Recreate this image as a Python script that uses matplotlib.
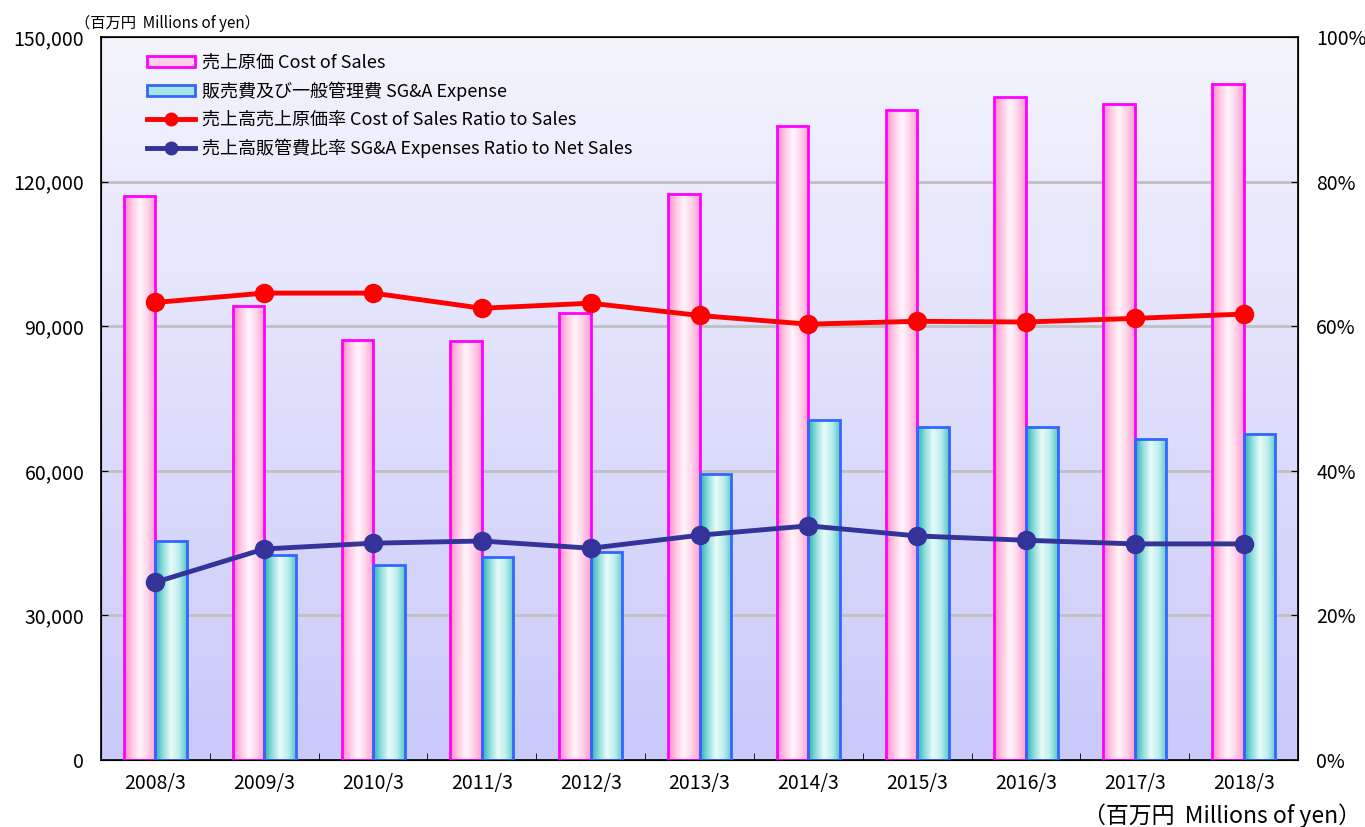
#
# Description: cost of sales / SG&A chart
#

import numpy as np
import matplotlib.pyplot as plt
from matplotlib.colors import LinearSegmentedColormap
from matplotlib.patches import Patch
from matplotlib.lines import Line2D

plt.rcParams['font.family'] = ['Noto Sans CJK JP', 'DejaVu Sans']

# データ
years = ['2008/3', '2009/3', '2010/3', '2011/3', '2012/3', '2013/3',
         '2014/3', '2015/3', '2016/3', '2017/3', '2018/3']
cost_of_sales = [117000, 94200, 87100, 86900, 92700, 117400,
                 131500, 134800, 137500, 136100, 140200]
sga_expense = [45400, 42500, 40400, 42100, 43100, 59300,
               70500, 69100, 69100, 66600, 67600]
cost_ratio = [63.3, 64.6, 64.6, 62.5, 63.2, 61.5, 60.3, 60.7, 60.6, 61.1, 61.7]
sga_ratio = [24.6, 29.2, 30.0, 30.3, 29.3, 31.1, 32.4, 31.0, 30.4, 29.9, 29.9]

label_cost = '売上原価 Cost of Sales'
label_sga = '販売費及び一般管理費 SG&A Expense'
label_cost_ratio = '売上高売上原価率 Cost of Sales Ratio to Sales'
label_sga_ratio = '売上高販管費比率 SG&A Expenses Ratio to Net Sales'
unit_label_top = '（百万円  Millions of yen）'
unit_label_bottom = '（百万円  Millions of yen）'

pink_cmap = LinearSegmentedColormap.from_list(
    'pink', ['#ff8cc6', '#ffc8e4', '#fff6fb', '#ffd2e9', '#ff9fd0'])
cyan_cmap = LinearSegmentedColormap.from_list(
    'cyan', ['#2fb0b0', '#8edede', '#eafcf9', '#bdeeee', '#5cc8c8'])
bg_cmap = LinearSegmentedColormap.from_list('bg', ['#c9c9fa', '#f4f4fd'])


def gradient_bars(ax, bars, cmap):
    grad = np.linspace(0, 1, 64).reshape(1, -1)
    for b in bars:
        x0, w, h = b.get_x(), b.get_width(), b.get_height()
        ax.imshow(grad, cmap=cmap, extent=(x0, x0 + w, 0, h),
                  aspect='auto', zorder=2, interpolation='bilinear')


fig = plt.figure(figsize=(13.65, 8.27), dpi=100)
ax = fig.add_axes([0.074, 0.081, 0.877, 0.874])

x = np.arange(len(years))
w = 0.29

# 背景グラデーション
ax.imshow(np.linspace(0, 1, 256).reshape(-1, 1), cmap=bg_cmap, origin='lower',
          extent=(-0.5, len(years) - 0.5, 0, 150000), aspect='auto', zorder=0)

for yv in [30000, 60000, 90000, 120000]:
    ax.axhline(yv, color='#c0c0c0', lw=2, zorder=1)

b1 = ax.bar(x - w / 2, cost_of_sales, w, facecolor='none',
            edgecolor='#ff00ff', lw=2, zorder=3)
b2 = ax.bar(x + w / 2, sga_expense, w, facecolor='none',
            edgecolor='#3366ff', lw=2, zorder=3)
gradient_bars(ax, b1, pink_cmap)
gradient_bars(ax, b2, cyan_cmap)

ax.set_xlim(-0.5, len(years) - 0.5)
ax.set_ylim(0, 150000)
ax.set_yticks([0, 30000, 60000, 90000, 120000, 150000])
ax.set_yticklabels(['{:,}'.format(v) for v in [0, 30000, 60000, 90000, 120000, 150000]])
ax.set_xticks(x)
ax.set_xticklabels(years)
ax.set_xticks(np.arange(0.5, len(years) - 1, 1), minor=True)
ax.tick_params(axis='x', which='major', length=0, pad=9, labelsize=14)
ax.tick_params(axis='x', which='minor', direction='in', length=5)
ax.tick_params(axis='y', direction='in', length=5, pad=12, labelsize=14)
for s in ax.spines.values():
    s.set_linewidth(1.2)

# 比率（右軸）
ax2 = ax.twinx()
ax2.plot(x, cost_ratio, color='#ff0000', lw=3.5, marker='o', markersize=13, zorder=5)
ax2.plot(x, sga_ratio, color='#333399', lw=3.5, marker='o', markersize=13, zorder=5)
ax2.set_ylim(0, 100)
ax2.set_yticks([0, 20, 40, 60, 80, 100])
ax2.set_yticklabels([f'{v}%' for v in [0, 20, 40, 60, 80, 100]])
ax2.tick_params(axis='y', direction='in', length=5, pad=13, labelsize=14)

handles = [
    Patch(facecolor='#ffd0e8', edgecolor='#ff00ff', lw=2),
    Patch(facecolor='#a6e6e6', edgecolor='#3366ff', lw=2),
    Line2D([], [], color='#ff0000', lw=3.5, marker='o', markersize=9),
    Line2D([], [], color='#333399', lw=3.5, marker='o', markersize=9),
]
ax2.legend(handles, [label_cost, label_sga, label_cost_ratio, label_sga_ratio],
           loc='upper left', bbox_to_anchor=(0.025, 1.0), frameon=False,
           fontsize=13, handlelength=2.65, handleheight=0.55, handletextpad=0.4,
           labelspacing=0.55)

fig.text(0.055, 0.972, unit_label_top, fontsize=11, va='center', ha='left')
fig.text(0.997, 0.014, unit_label_bottom, fontsize=16.5, va='center', ha='right')

plt.savefig('out.png', dpi=100)
